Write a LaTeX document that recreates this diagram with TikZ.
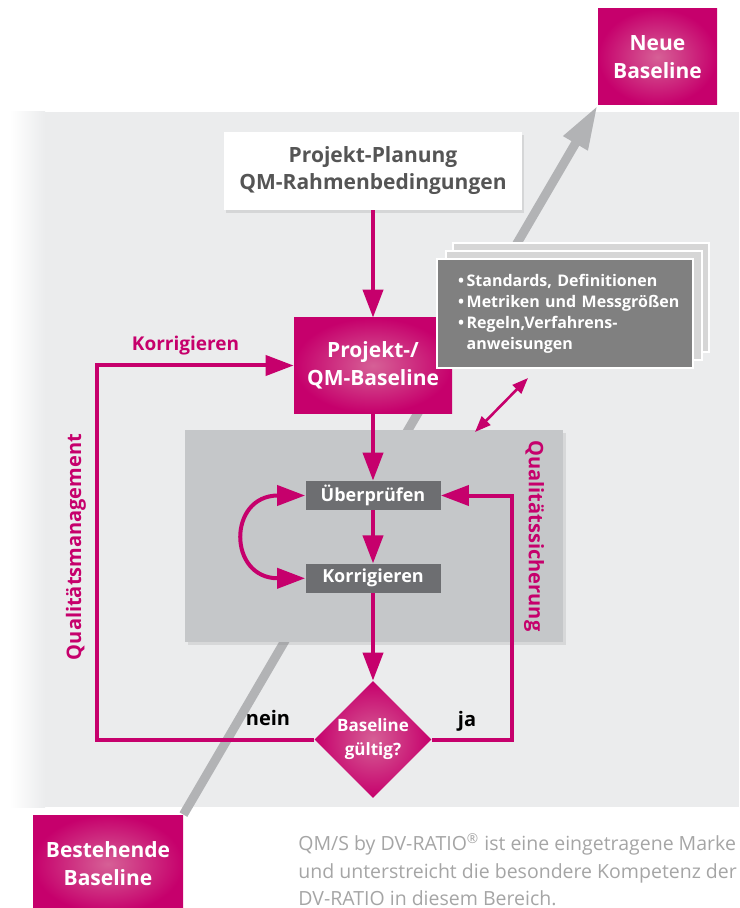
\documentclass[tikz,border=0pt]{standalone}
\usepackage{fontspec}
\setmainfont{Open Sans}
\usetikzlibrary{arrows.meta, positioning, shapes.geometric, shadows, backgrounds}

\definecolor{qmred}{RGB}{198,0,108}
\definecolor{qmglow}{RGB}{214,96,150}
\definecolor{qmbg}{RGB}{235,236,237}
\definecolor{qmgrey}{RGB}{197,199,201}
\definecolor{qmdark}{RGB}{109,110,113}
\definecolor{qmsheet}{RGB}{128,128,128}
\definecolor{qmpale}{RGB}{214,214,214}
\definecolor{qmtext}{RGB}{85,85,85}
\definecolor{qmline}{RGB}{178,179,181}
\definecolor{qmfoot}{RGB}{165,165,165}

\tikzstyle{basebox} = [rectangle, minimum width=59.5pt, minimum height=48pt, shading=radial, inner color=qmglow, outer color=qmred, text=white, align=center, font=\bfseries\fontsize{10.5}{14}\selectfont]
\tikzstyle{planbox} = [rectangle, minimum width=149pt, minimum height=39pt, fill=white, text=qmtext, align=center, font=\bfseries\fontsize{10.5}{13.5}\selectfont, drop shadow={opacity=0.2, shadow xshift=1pt, shadow yshift=-1.5pt}]
\tikzstyle{task} = [rectangle, minimum width=67.5pt, minimum height=14.5pt, inner sep=0pt, fill=qmdark, text=white, font=\bfseries\fontsize{9}{11}\selectfont]
\tikzstyle{sheet} = [rectangle, minimum width=128pt, minimum height=54.5pt, draw=white, line width=1pt, fill=qmpale]
\tikzstyle{decision} = [diamond, aspect=1, minimum width=58.5pt, minimum height=58.5pt, inner sep=0pt, shading=radial, inner color=qmglow, outer color=qmred, text=white, align=center, font=\bfseries\fontsize{8.5}{12}\selectfont]
\tikzstyle{sidelabel} = [text=qmred, font=\bfseries\fontsize{10}{12}\selectfont]
\tikzstyle{answer} = [text=black, font=\bfseries\fontsize{10}{12}\selectfont]
\tikzstyle{arrow} = [-{Triangle[length=14pt,width=10pt]}, draw=qmred, line width=2pt]
\tikzstyle{dblarrow} = [{Triangle[length=8pt,width=6pt]}-{Triangle[length=8pt,width=6pt]}, draw=qmred, line width=1.3pt]
\tikzstyle{trend} = [-{Triangle[length=22pt,width=13pt]}, draw=qmline, line width=4.5pt]

\begin{document}
\begin{tikzpicture}[x=0.5pt, y=-0.5pt]

    \useasboundingbox (0,0) rectangle (739,908);

    % baselines
    \node (neue) [basebox] at (657.5,57) {Neue\\Baseline};
    \node (best) [basebox, minimum width=75pt, minimum height=49pt] at (108,864) {Bestehende\\Baseline};

    % planning and project baseline
    \node (plan) [planbox] at (373,171) {Projekt-Planung\\QM-Rahmenbedingungen};
    \node (qmbase) [basebox, minimum width=79pt, minimum height=47.5pt] at (373,365.5) {Projekt-/\\QM-Baseline};

    % stacked rule sheets
    \node (sheetback) [sheet] at (580.5,298) {};
    \node (sheetmid) [sheet] at (573.5,305.5) {};
    \node (rules) [sheet, fill=qmsheet, text=white, text width=107pt, inner xsep=10.5pt, align=left, font=\bfseries\fontsize{8}{10.5}\selectfont] at (565,314)
        {\mbox{\textbullet\,Standards, Definitionen}\\
         \mbox{\textbullet\,Metriken und Messgrößen}\\
         \mbox{\textbullet\,Regeln,Verfahrens-}\\
         \mbox{\phantom{\textbullet\,}anweisungen}};

    % quality assurance area
    \node (qsarea) [rectangle, minimum width=189pt, minimum height=106pt, fill=qmgrey, drop shadow={opacity=0.18, shadow xshift=1.5pt, shadow yshift=-1.5pt}] at (374,536) {};
    \node (ueber) [task] at (373,495.5) {Überprüfen};
    \node (korr) [task, below=26.5pt of ueber] {Korrigieren};

    \node (check) [decision] at (373,739.5) {Baseline\\gültig?};

    \coordinate (neinturn) at (97,365.5);
    \coordinate (jaturn) at (512,495.5);
    \coordinate (linkA) at (475,432);
    \coordinate (linkB) at (528,378);

    \begin{scope}[on background layer]
        \fill[qmbg] (10,112) rectangle (739,807);
        \shade[left color=white, right color=qmbg] (10,112) rectangle (45,807);
        \draw [trend] (best.north east) -- (neue.south west);
    \end{scope}

    \draw [arrow] (plan) -- (qmbase);
    \draw [arrow] (qmbase) -- (ueber);
    \draw [arrow] (ueber) -- (korr);
    \draw [arrow] (korr) -- (check);
    \draw [arrow, {Triangle[length=14pt,width=10pt]}-{Triangle[length=14pt,width=10pt]}] (ueber.west) to[out=180, in=180, looseness=2.4] (korr.west);

    \draw [arrow] (check.west) -| (neinturn) -- node[sidelabel, font=\bfseries\fontsize{9.5}{12}\selectfont, above=1pt, pos=0.45] {Korrigieren} (qmbase.west);
    \draw [arrow] (check.east) -| (jaturn) -- (ueber.east);
    \draw [dblarrow] (linkA) -- (linkB);

    \node (qmlabel) [sidelabel, rotate=90] at (76,547) {Qualitätsmanagement};
    \node (qslabel) [sidelabel, rotate=-90] at (534,536) {Qualitätssicherung};
    \node (nein) [answer] at (268,718) {nein};
    \node (ja) [answer] at (467,721) {ja};

    \node (footer) [anchor=north west, align=left, inner sep=0pt, text=qmfoot, font=\fontsize{9.75}{13.8}\selectfont] at (298,833)
        {QM/S by DV-RATIO\textsuperscript{\textregistered} ist eine eingetragene Marke\\
         und unterstreicht die besondere Kompetenz der\\
         DV-RATIO in diesem Bereich.};

\end{tikzpicture}
\end{document}
